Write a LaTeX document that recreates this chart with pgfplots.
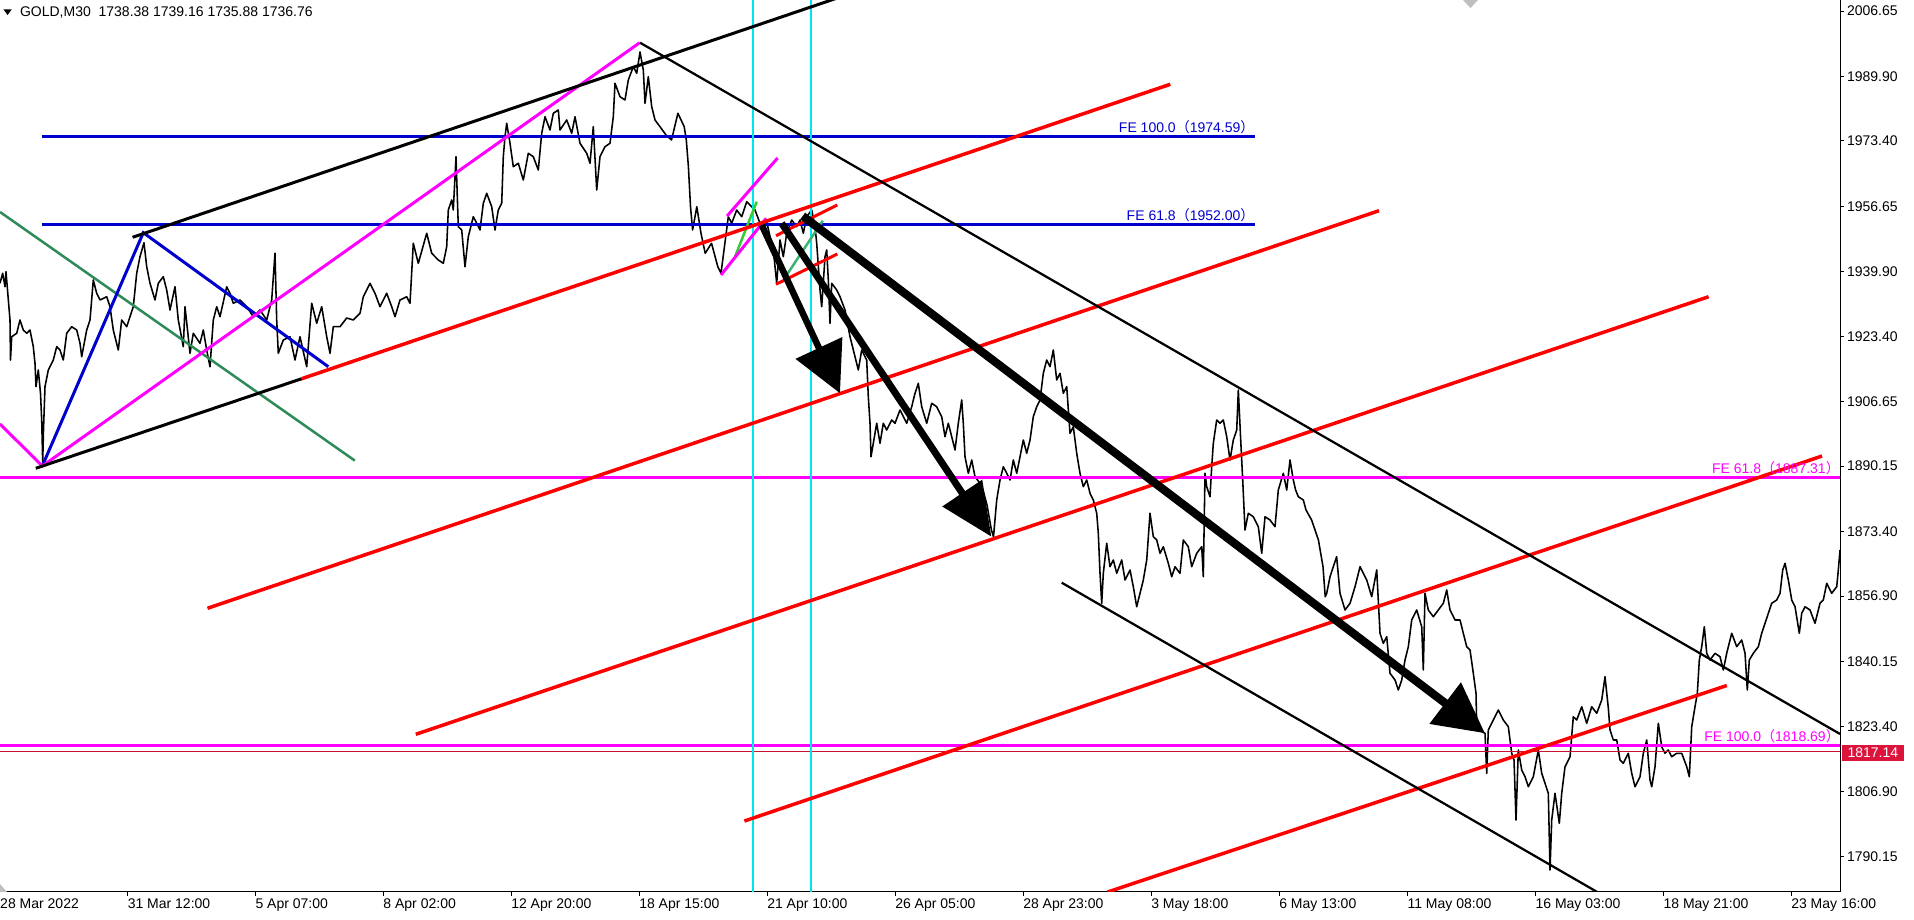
\documentclass[border=0pt]{standalone}
\usepackage{fontspec}
\setmainfont{Liberation Sans}
\newfontfamily\cjk{Noto Sans CJK SC}
\usepackage{pgfplots}
\pgfplotsset{compat=1.18}
\usetikzlibrary{arrows.meta}
\definecolor{mtred}{RGB}{255,0,0}
\definecolor{mtblue}{RGB}{0,0,205}
\definecolor{mtmag}{RGB}{255,0,255}
\definecolor{mtcyan}{RGB}{0,230,240}
\definecolor{mtgreen}{RGB}{46,139,87}
\definecolor{mtlime}{RGB}{50,205,50}
\definecolor{mtsea}{RGB}{60,179,113}
\definecolor{crim}{RGB}{220,20,60}
\definecolor{thinred}{RGB}{200,20,50}
\newcommand{\lp}{{\cjk （}}
\newcommand{\rp}{{\cjk ）}}
\begin{document}
\begin{tikzpicture}[font=\fontsize{11.2pt}{13.4pt}\selectfont]
\useasboundingbox (0,-22.4pt) rectangle (1531.2pt,713.6pt);
\begin{axis}[
  at={(0,0)}, anchor=south west,
  width=1472pt, height=713.6pt, scale only axis,
  xmin=0, xmax=1840, ymin=1781.13, ymax=2009.48,
  clip mode=individual,
  axis line style={line width=0.8pt, black},
  xtick={0,127.5,255.3,383.2,511,639,767,895,1023,1151,1279,1407.3,1535.3,1663.3,1791},
  xticklabels={28 Mar 2022,31 Mar 12:00,5 Apr 07:00,8 Apr 02:00,12 Apr 20:00,18 Apr 15:00,21 Apr 10:00,26 Apr 05:00,28 Apr 23:00,3 May 18:00,6 May 13:00,11 May 08:00,16 May 03:00,18 May 21:00,23 May 16:00},
  ytick={2006.65,1989.90,1973.40,1956.65,1939.90,1923.40,1906.65,1890.15,1873.40,1856.90,1840.15,1823.40,1806.90,1790.15},
  yticklabels={2006.65,1989.90,1973.40,1956.65,1939.90,1923.40,1906.65,1890.15,1873.40,1856.90,1840.15,1823.40,1806.90,1790.15},
  xtick pos=left, ytick pos=right, yticklabel pos=right,
  tick align=outside, major tick length=3.2pt,
  tick style={black, line width=0.8pt},
  xticklabel style={anchor=north west, inner sep=0pt, yshift=-1.6pt},
  yticklabel style={anchor=west, inner sep=0pt, xshift=2.2pt},
]
% price
\addplot[black, line width=1.25pt, line join=round] coordinates {
(0,1936.96)(2.7,1939.52)(5,1936.08)(6,1939.92)(10,1927.56)(10.5,1917.32)(11.7,1923.28)(16.7,1924.16)(20,1927.56)(23.3,1925.00)(26.7,1924.16)(30,1925.00)(33.3,1920.72)(35,1916.48)(36,1910.49)(38.3,1914.76)(40.5,1908.80)(41.7,1901.96)(42.7,1891.21)(43.5,1899.40)(45,1910.49)(48.3,1914.76)(53.3,1917.32)(56.7,1920.72)(60,1919.88)(63.3,1917.32)(66.7,1924.16)(71.7,1925.84)(76.7,1925.00)(80,1921.60)(81.7,1918.16)(86.7,1925.00)(90,1927.56)(93.3,1937.80)(96.7,1934.40)(100,1932.68)(106.7,1933.52)(110,1930.96)(113.3,1925.00)(118.3,1919.88)(121.7,1927.56)(126.7,1925.84)(130,1928.40)(133.3,1930.96)(136.7,1939.52)(140,1943.76)(144,1947.35)(146.7,1941.20)(150,1936.96)(155,1932.68)(158.3,1936.96)(163.3,1938.64)(166.7,1935.24)(170,1930.12)(175,1936.08)(178.3,1927.56)(183.3,1920.72)(185,1930.96)(190,1919.04)(193.3,1924.16)(200,1921.60)(203.3,1925.00)(206.7,1919.88)(210,1915.60)(213.3,1927.56)(216.7,1930.96)(220,1928.40)(226.7,1936.08)(230,1934.40)(233.3,1931.84)(240,1932.68)(246.7,1930.96)(253.3,1928.40)(260,1930.12)(266.7,1927.56)(271.7,1932.68)(275,1944.64)(276.7,1927.56)(278.3,1919.04)(283.3,1922.44)(290,1923.28)(295,1917.32)(300,1923.28)(306.7,1915.60)(311.7,1931.84)(316.7,1926.72)(321.7,1930.96)(326.7,1923.28)(330,1919.04)(333.3,1925.84)(340,1925.84)(346.7,1928.07)(353.3,1927.56)(360,1929.28)(363.3,1933.52)(370,1936.96)(375,1934.40)(380,1930.96)(386.7,1934.40)(391.7,1930.96)(395,1928.40)(400,1932.68)(406.7,1933.52)(410,1931.84)(413.3,1947.20)(418.3,1942.08)(426.7,1949.76)(431.7,1944.64)(438.3,1942.92)(443.3,1942.08)(446.7,1946.32)(448.3,1955.72)(451.7,1958.28)(453.3,1955.72)(456,1969.36)(458.3,1951.44)(461.7,1950.60)(465,1941.20)(468.3,1948.88)(473.3,1954.00)(476.7,1952.32)(480,1950.60)(483.3,1957.44)(486.7,1960.00)(491.7,1956.56)(495,1950.60)(498.3,1955.72)(501.7,1957.44)(503.3,1969.36)(505,1974.48)(506.7,1977.92)(510,1972.80)(513.3,1966.80)(518.3,1967.68)(523.3,1963.40)(528.3,1970.24)(533.3,1969.36)(538.3,1965.96)(541.7,1975.36)(545,1979.60)(550,1976.20)(553.3,1980.48)(558.3,1981.32)(560,1976.20)(566.7,1978.76)(571.7,1975.36)(575,1979.60)(580,1972.80)(586.7,1970.24)(590,1967.68)(593.3,1977.04)(596.7,1960.84)(600,1969.36)(605,1971.92)(610,1972.80)(613.3,1979.60)(615,1988.16)(620,1984.72)(625,1983.88)(628.3,1989.00)(633.3,1992.40)(636.7,1990.72)(640,1996.17)(643.3,1991.56)(645,1983.04)(648.3,1989.84)(651.7,1982.16)(655,1978.76)(660,1977.04)(666,1974.92)(671.5,1973.64)(677.9,1980.48)(684.2,1977.04)(686.3,1973.64)(688.4,1966.80)(690.5,1956.56)(692.6,1950.60)(696.8,1956.56)(701,1949.76)(705.2,1944.64)(711.5,1947.20)(717.8,1941.20)(721,1939.52)(728.3,1954.00)(731.7,1952.32)(736.7,1955.72)(741.7,1954.00)(746.7,1957.84)(751.7,1956.56)(755,1955.72)(760,1952.32)(766.7,1952.72)(770,1948.88)(773.3,1945.48)(776.7,1936.96)(780,1948.04)(783.3,1943.76)(786.7,1949.76)(791.7,1953.16)(796.7,1951.44)(800,1953.16)(803.3,1949.76)(806.7,1954.00)(811.7,1955.72)(815,1951.44)(816.7,1947.20)(820,1935.24)(821.7,1930.96)(825,1943.76)(826.7,1945.48)(828.3,1937.80)(830,1926.72)(831.7,1936.96)(836.7,1935.24)(840,1933.52)(845,1930.12)(850,1923.28)(855,1918.16)(858.3,1914.76)(861.7,1919.88)(866.7,1917.32)(868.3,1907.92)(870,1901.12)(871,1892.56)(873.3,1896.00)(876.7,1901.12)(880,1896.00)(883.3,1901.12)(886.7,1899.40)(891.7,1901.96)(895,1901.12)(900,1904.52)(906.7,1901.12)(911.7,1905.36)(915,1908.80)(918.3,1911.36)(921.7,1905.36)(926.7,1901.12)(931.7,1906.24)(936.7,1905.36)(941.7,1902.80)(945,1897.68)(948.3,1901.12)(951.7,1897.68)(955,1894.28)(958.3,1901.12)(961.7,1907.08)(963.3,1901.12)(965,1892.56)(968.3,1888.32)(971.7,1891.72)(975,1887.44)(980,1885.76)(983,1884.04)(987,1880.20)(991.4,1873.80)(993.5,1872.08)(996.7,1881.48)(1000,1886.60)(1003.3,1890.00)(1006.7,1888.32)(1010,1886.60)(1013.3,1891.72)(1016.7,1888.32)(1020,1892.56)(1023.3,1896.84)(1026.7,1893.44)(1030,1896.84)(1033.3,1902.80)(1036.7,1905.36)(1040,1907.08)(1043.3,1913.92)(1046.7,1917.32)(1050,1915.60)(1053.3,1919.88)(1056.7,1912.20)(1060,1913.92)(1063.3,1908.80)(1066.7,1910.49)(1070,1898.56)(1073.3,1900.24)(1076.7,1893.44)(1080,1888.32)(1083.3,1884.88)(1086.7,1886.60)(1090,1883.20)(1093.3,1881.48)(1096.7,1878.08)(1098.3,1872.96)(1100,1862.72)(1101.7,1855.04)(1103.3,1862.72)(1106.7,1870.40)(1110,1864.40)(1113.3,1866.12)(1116.7,1862.72)(1121.7,1866.12)(1125,1861.00)(1130,1863.56)(1133.3,1859.28)(1136.7,1854.16)(1140,1857.60)(1143.3,1861.00)(1146.7,1866.12)(1150,1878.08)(1153.3,1872.08)(1156.7,1871.24)(1160,1867.84)(1163.3,1869.52)(1168.3,1865.28)(1171.7,1861.84)(1175,1864.40)(1180,1862.72)(1183.3,1871.24)(1188.3,1869.52)(1191.7,1864.40)(1196.7,1867.84)(1201.7,1869.52)(1203.3,1861.84)(1205,1888.32)(1206.7,1884.88)(1210,1882.32)(1211.7,1890.00)(1213.3,1896.00)(1216.7,1901.96)(1220,1901.12)(1223.3,1901.96)(1226.7,1897.68)(1230,1891.72)(1233.3,1896.84)(1236.7,1899.40)(1238.3,1909.64)(1240.7,1896.84)(1242.7,1886.60)(1245,1873.80)(1248.3,1878.08)(1253.3,1877.20)(1258.3,1874.64)(1261.7,1867.84)(1265,1877.20)(1270,1876.36)(1275,1874.64)(1278.3,1884.04)(1283.3,1888.32)(1286.7,1884.04)(1290,1891.72)(1293.3,1886.60)(1295.6,1884.04)(1298.3,1882.32)(1303.3,1881.48)(1306,1878.92)(1311.6,1876.36)(1318.4,1871.24)(1323,1864.40)(1325.2,1856.72)(1326.7,1857.60)(1330,1861.84)(1333.3,1864.40)(1336.6,1866.96)(1340,1857.60)(1345,1853.32)(1350,1855.04)(1355,1859.28)(1360,1864.40)(1366.7,1861.00)(1371.7,1856.72)(1376.7,1863.56)(1380,1847.36)(1383.3,1844.80)(1386.7,1846.49)(1390,1837.12)(1395,1835.40)(1398.3,1832.84)(1401.7,1835.40)(1405,1840.52)(1408.3,1843.92)(1411.7,1850.76)(1416.7,1853.32)(1421.7,1849.04)(1423.3,1837.96)(1425,1857.60)(1428.3,1853.32)(1433.3,1851.60)(1438.3,1853.32)(1443.3,1855.04)(1446.7,1858.44)(1450,1853.32)(1455,1850.76)(1460,1850.76)(1463.3,1847.36)(1466.7,1843.92)(1470,1843.08)(1473.3,1837.12)(1476,1832.00)(1476.7,1823.44)(1481.7,1822.16)(1485,1821.76)(1486.7,1811.52)(1488.3,1822.60)(1493.3,1825.16)(1498.3,1827.72)(1503.3,1825.16)(1508.3,1823.44)(1511.7,1816.64)(1514,1814.92)(1516,1799.56)(1518.3,1817.48)(1521.7,1812.36)(1525,1810.64)(1528.3,1808.08)(1533.3,1810.64)(1538.3,1817.48)(1541.7,1811.52)(1545,1808.96)(1548.3,1806.40)(1550,1786.76)(1551.7,1799.56)(1555,1806.40)(1559.3,1798.72)(1561.7,1806.40)(1565,1813.20)(1570,1815.76)(1573.3,1826.00)(1576.7,1825.16)(1581.7,1828.56)(1586.7,1824.32)(1591.7,1828.56)(1596.7,1826.88)(1601.7,1830.28)(1605,1836.24)(1608.3,1828.23)(1610,1822.60)(1613.3,1820.04)(1616.7,1820.04)(1620,1814.92)(1623.3,1814.08)(1628.3,1816.64)(1631.7,1811.52)(1635,1808.08)(1640,1810.64)(1643.3,1816.64)(1646.7,1820.04)(1650,1809.80)(1651.7,1808.08)(1655,1813.20)(1658.3,1824.32)(1661.7,1818.32)(1665,1816.64)(1668.3,1817.48)(1671.7,1815.76)(1676.7,1816.64)(1681.7,1816.64)(1686.7,1813.20)(1689.3,1810.64)(1691.7,1823.44)(1695,1828.56)(1697.3,1832.00)(1699.3,1840.52)(1701.7,1843.92)(1704.3,1849.04)(1706.7,1842.24)(1710,1840.52)(1715,1842.24)(1720,1841.36)(1723.3,1837.96)(1726.7,1842.24)(1731.7,1847.36)(1736.7,1843.92)(1741.7,1845.64)(1745,1842.24)(1747.3,1832.84)(1749.3,1840.52)(1753.3,1842.24)(1758.3,1843.92)(1761.7,1847.36)(1765,1849.92)(1768.3,1852.48)(1771.7,1855.04)(1776.7,1855.88)(1780,1857.60)(1782.7,1863.56)(1785,1865.28)(1788.3,1861.00)(1791.7,1855.88)(1795,1854.16)(1799.3,1847.36)(1801.7,1852.48)(1805,1854.16)(1810,1853.32)(1815,1849.92)(1820,1855.04)(1823.3,1855.88)(1826.7,1860.16)(1831.7,1857.60)(1836.7,1859.28)(1838.3,1863.56)(1840,1868.68)
};
% horizontal levels
\addplot[mtblue, line width=2.4pt] coordinates {(42,1974.59)(1254.6,1974.59)};
\addplot[mtblue, line width=2.4pt] coordinates {(42,1952.00)(1254.6,1952.00)};
\addplot[mtmag, line width=2.4pt] coordinates {(0,1887.31)(1840,1887.31)};
\addplot[mtmag, line width=2.4pt] coordinates {(0,1818.69)(1840,1818.69)};
\addplot[thinred, line width=0.8pt] coordinates {(0,1817.14)(1840,1817.14)};
% cyan verticals
\addplot[mtcyan, line width=1.6pt] coordinates {(753,1781.13)(753,2009.48)};
\addplot[mtcyan, line width=1.6pt] coordinates {(811,1781.13)(811,2009.48)};
% green
\addplot[mtgreen, line width=2pt] coordinates {(0,1955.21)(354.8,1891.57)};
\addplot[mtlime, line width=2pt] coordinates {(735,1943.76)(756.7,1957.84)};
\addplot[mtsea, line width=2pt] coordinates {(786.7,1939.08)(822.7,1952.98)};
% blue zigzag
\addplot[mtblue, line width=2.4pt] coordinates {(42.3,1890.18)(143.3,1949.91)(328.3,1915.60)};
% magenta
\addplot[mtmag, line width=2.4pt] coordinates {(0,1900.94)(42.3,1890.18)(639.7,1998.55)};
\addplot[mtmag, line width=2.4pt] coordinates {(727.1,1954.18)(777.6,1969.03)};
\addplot[mtmag, line width=2.4pt] coordinates {(721,1939.08)(766.2,1953.60)};
% black ascending channel
\addplot[black, line width=2.4pt] coordinates {(132.6,1948.73)(850,2011.09)};
\addplot[black, line width=2.4pt] coordinates {(35.8,1889.60)(301.7,1912.53)};
% red channel lines
\addplot[mtred, line width=2.8pt] coordinates {(301.7,1912.53)(1170.3,1987.90)};
\addplot[mtred, line width=2.8pt] coordinates {(207.5,1853.76)(1379,1955.54)};
\addplot[mtred, line width=2.8pt] coordinates {(415.8,1821.50)(1708.6,1933.52)};
\addplot[mtred, line width=2.8pt] coordinates {(744.4,1799.30)(1822,1892.74)};
\addplot[mtred, line width=2.8pt] coordinates {(1107.6,1781.13)(1726.8,1833.99)};
\addplot[mtred, line width=2.4pt] coordinates {(776,1936.70)(837.3,1944.46)};
\addplot[mtred, line width=2.4pt] coordinates {(776,1949.14)(837.3,1957.00)};
% black descending channel
\addplot[black, line width=1.8pt] coordinates {(640,1998.55)(1840,1821.58)};
\addplot[black, line width=1.8pt] coordinates {(1061.7,1860.31)(1596.7,1781.20)};
% arrows
\addplot[black, line width=5.2pt, -{Triangle[length=40pt,width=40pt]}] coordinates {(761.7,1951.88)(840,1908.80)};
\addplot[black, line width=5.6pt, -{Triangle[length=42pt,width=37pt]}] coordinates {(781.7,1952.32)(991.4,1872.08)};
\addplot[black, line width=6.6pt, -{Triangle[length=40pt,width=40pt]}] coordinates {(802.7,1954.18)(1485,1821.76)};
% small markers
\addplot[fill=black!25, draw=none] coordinates {(1463,2009.48)(1478,2009.48)(1470.5,2007.43)} -- cycle;
\addplot[fill=black!25, draw=none] coordinates {(0,1781.13)(0,1783.18)(7,1781.13)} -- cycle;
\addplot[fill=black, draw=none] coordinates {(3.4,2007.10)(11.8,2007.10)(7.6,2005.64)} -- cycle;
% texts
\node[anchor=base west, inner sep=0pt] at (axis cs:19.8,2005.21) {GOLD,M30\ \ 1738.38 1739.16 1735.88 1736.76};
\node[anchor=base east, inner sep=0pt, text=mtblue] at (axis cs:1254.6,1975.51) {FE 100.0\lp1974.59\rp};
\node[anchor=base east, inner sep=0pt, text=mtblue] at (axis cs:1254.6,1952.98) {FE 61.8\lp1952.00\rp};
\node[anchor=base east, inner sep=0pt, text=mtmag] at (axis cs:1840,1888.32) {FE 61.8\lp1887.31\rp};
\node[anchor=base east, inner sep=0pt, text=mtmag] at (axis cs:1840,1819.61) {FE 100.0\lp1818.69\rp};
\node[anchor=west, fill=crim, text=white, inner xsep=2.4pt, inner ysep=0pt, minimum height=12.8pt, minimum width=49.4pt] at (axis cs:1841.7,1816.71) {1817.14};
\end{axis}
\end{tikzpicture}
\end{document}
